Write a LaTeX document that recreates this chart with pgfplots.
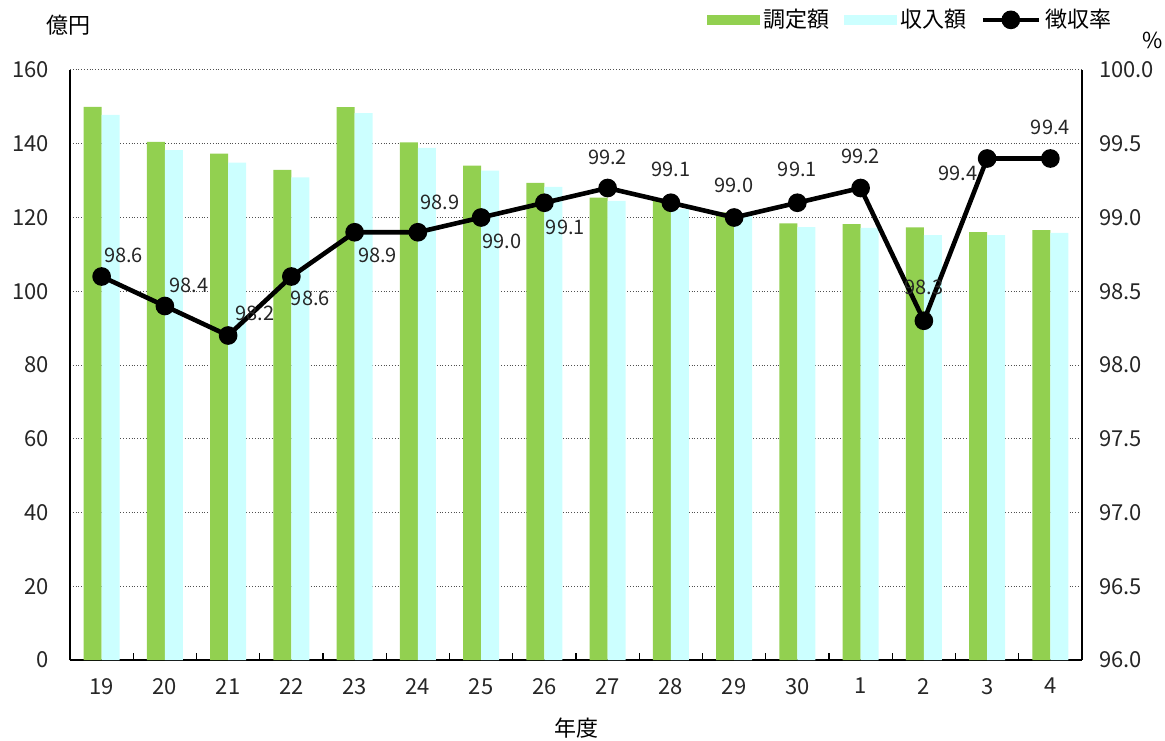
\documentclass[border=0pt]{standalone}
\usepackage{fontspec}
\setmainfont{Noto Sans CJK JP}
\usepackage{pgfplots}
\pgfplotsset{compat=1.18}
\usepackage{pgfplotstable}
\usetikzlibrary{calc}

\definecolor{barA}{RGB}{146,208,80}
\definecolor{barB}{RGB}{204,255,255}
\definecolor{gridc}{RGB}{80,80,80}

\pgfplotsset{
  linelegend/.style={legend image code/.code={\draw[##1, mark repeat=2, mark phase=2] plot coordinates {(0pt,0pt) (14pt,0pt) (28pt,0pt)};}},
  barAlegend/.style={legend image code/.code={\fill[barA] (0pt,-2.2pt) rectangle (26pt,2.2pt);}},
  barBlegend/.style={legend image code/.code={\fill[barB] (0pt,-2.2pt) rectangle (26pt,2.2pt);}},
}

\pgfplotstableread{
x a b
0 150.0 147.8
1 140.5 138.3
2 137.3 134.9
3 132.9 130.9
4 149.9 148.3
5 140.4 138.9
6 134.1 132.7
7 129.4 128.3
8 125.4 124.5
9 124.8 122.3
10 121.4 120.5
11 118.4 117.4
12 118.2 117.2
13 117.3 115.2
14 116.0 115.2
15 116.6 115.8
}\bars

\pgfplotstableread{
x y lab dx dy
0 98.6 98.6 11 10.5
1 98.4 98.4 12 10.5
2 98.2 98.2 13.5 11
3 98.6 98.6 9.5 -11
4 98.9 98.9 11.5 -11.5
5 98.9 98.9 11 15
6 99.0 99.0 10.5 -12
7 99.1 99.1 10.5 -12.5
8 99.2 99.2 0 15.5
9 99.1 99.1 0 16.5
10 99.0 99.0 0 16
11 99.1 99.1 0 16.5
12 99.2 99.2 0 16
13 98.3 98.3 0 16.5
14 99.4 99.4 -14.5 -7.5
15 99.4 99.4 0 15.5
}\rate

\begin{document}
\begin{tikzpicture}
\pgfplotsset{
  every axis/.append style={
    scale only axis,
    width=506pt, height=295pt,
    xmin=-0.5, xmax=15.5,
    /pgf/number format/assume math mode=true,
    tick label style={font=\fontsize{11}{13}\selectfont, text=black!85},
  },
}
\begin{axis}[
  name=main,
  ymin=0, ymax=160,
  ytick={0,20,...,160},
  axis x line*=bottom,
  axis y line*=left,
  axis line style={black, line width=0.8pt},
  ymajorgrids,
  major grid style={gridc, densely dotted, line width=0.5pt},
  xtick={0,...,15},
  xticklabels={19,20,21,22,23,24,25,26,27,28,29,30,1,2,3,4},
  major x tick style={draw=none},
  minor xtick={0.5,1.5,...,14.5},
  minor tick length=3.5pt,
  minor x tick style={black, line width=0.6pt},
  tick align=inside,
  major y tick style={draw=none},
  yticklabel style={xshift=-7pt},
  xticklabel style={yshift=-5.5pt},
  xlabel={年度},
  xlabel style={font=\fontsize{11}{13}\selectfont, yshift=-8.5pt, inner sep=0pt},
  clip=false,
]
\addplot[ybar, bar width=9pt, bar shift=-4.5pt, fill=barA, draw=none] table[x=x, y=a] {\bars};
\addplot[ybar, bar width=9pt, bar shift=4.5pt, fill=barB, draw=none] table[x=x, y=b] {\bars};
\node[font=\fontsize{11}{13}\selectfont] at (rel axis cs:0,1) [yshift=22.5pt, xshift=-1pt] {億円};
\node[font=\fontsize{11}{13}\selectfont] at (rel axis cs:1,1) [yshift=15pt, xshift=35.5pt] {\%};
\end{axis}
\begin{axis}[
  ymin=96, ymax=100,
  ytick={96,96.5,...,100},
  axis x line=none,
  axis y line*=right,
  axis line style={black, line width=0.8pt},
  major y tick style={draw=none},
  yticklabel style={xshift=5pt, /pgf/number format/.cd, fixed, fixed zerofill, precision=1},
  legend style={at={(0.629,1.085)}, anchor=west, draw=none, fill=none,
    legend columns=3, font=\fontsize{11}{13}\selectfont,
    /tikz/every even column/.append style={column sep=5pt},
    inner sep=0pt},
  clip=false,
]
\addlegendimage{barAlegend}
\addlegendentry{調定額}
\addlegendimage{barBlegend}
\addlegendentry{収入額}
\addplot[black, line width=2.3pt, mark=*, mark size=3.5pt, linelegend,
  nodes near coords,
  point meta=explicit symbolic,
  visualization depends on={\thisrow{dx} \as \ldx},
  visualization depends on={\thisrow{dy} \as \ldy},
  nodes near coords style={anchor=center, xshift=\ldx pt, yshift=\ldy pt, font=\fontsize{10}{12}\selectfont, text=black!85},
] table[x=x, y=y, meta=lab] {\rate};
\addlegendentry{徴収率}
\end{axis}
\pgfresetboundingbox
\path[use as bounding box] ($(main.south west)+(-35pt,-40pt)$) rectangle ($(main.north east)+(41.5pt,35pt)$);
\end{tikzpicture}
\end{document}
